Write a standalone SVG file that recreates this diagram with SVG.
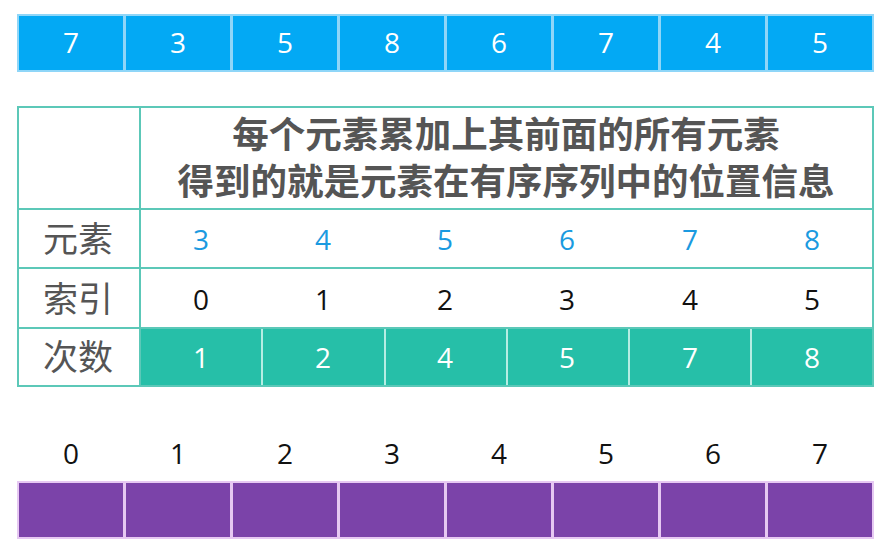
<svg xmlns="http://www.w3.org/2000/svg" width="892" height="556" viewBox="0 0 892 556">
<style>
.blue{fill:#03A9F4;stroke:#8FD6F8;stroke-width:2}
.purple{fill:#7B43A9;stroke:#E6C8F2;stroke-width:2}
.teal{fill:#26BFA8;stroke:#B5EDE3;stroke-width:2}
.grid{fill:none;stroke:#5CC8B8;stroke-width:2}
.num{font-family:"Open Sans","Noto Sans",sans-serif;font-size:28px;text-anchor:middle}
.w{fill:#FFFFFF}
.k{fill:#111111}
.b{fill:#1A9AE0}
.lab{font-family:"Noto Sans CJK SC",sans-serif;font-size:35px;fill:#555555;text-anchor:middle}
.hd{font-family:"Noto Sans CJK SC",sans-serif;font-size:36.5px;font-weight:bold;fill:#555555;text-anchor:middle}
</style>
<rect width="892" height="556" fill="#FFFFFF"/>
<g id="top-array">
<rect class="blue" x="18" y="15" width="106" height="56"/>
<rect class="blue" x="125" y="15" width="106" height="56"/>
<rect class="blue" x="232" y="15" width="106" height="56"/>
<rect class="blue" x="339" y="15" width="106" height="56"/>
<rect class="blue" x="446" y="15" width="106" height="56"/>
<rect class="blue" x="553" y="15" width="106" height="56"/>
<rect class="blue" x="660" y="15" width="106" height="56"/>
<rect class="blue" x="767" y="15" width="106" height="56"/>
<text class="num w" x="71" y="53">7</text>
<text class="num w" x="178" y="53">3</text>
<text class="num w" x="285" y="53">5</text>
<text class="num w" x="392" y="53">8</text>
<text class="num w" x="499" y="53">6</text>
<text class="num w" x="606" y="53">7</text>
<text class="num w" x="713" y="53">4</text>
<text class="num w" x="820" y="53">5</text>
</g>
<g id="table">
<rect class="teal" x="140" y="328" width="122" height="58"/>
<rect class="teal" x="262" y="328" width="123" height="58"/>
<rect class="teal" x="385" y="328" width="122" height="58"/>
<rect class="teal" x="507" y="328" width="122" height="58"/>
<rect class="teal" x="629" y="328" width="122" height="58"/>
<rect class="teal" x="751" y="328" width="122" height="58"/>
<rect class="grid" x="18" y="107" width="855" height="279"/>
<line class="grid" x1="140" y1="107" x2="140" y2="386"/>
<line class="grid" x1="18" y1="209" x2="873" y2="209"/>
<line class="grid" x1="18" y1="268" x2="873" y2="268"/>
<line class="grid" x1="18" y1="328" x2="873" y2="328"/>
<text class="hd" x="506" y="148">每个元素累加上其前面的所有元素</text>
<text class="hd" x="506" y="195">得到的就是元素在有序序列中的位置信息</text>
<text class="lab" x="78" y="252">元素</text>
<text class="lab" x="78" y="312">索引</text>
<text class="lab" x="78" y="370">次数</text>
<text class="num b" x="201" y="250">3</text>
<text class="num b" x="323" y="250">4</text>
<text class="num b" x="445" y="250">5</text>
<text class="num b" x="567" y="250">6</text>
<text class="num b" x="690" y="250">7</text>
<text class="num b" x="812" y="250">8</text>
<text class="num k" x="201" y="310">0</text>
<text class="num k" x="323" y="310">1</text>
<text class="num k" x="445" y="310">2</text>
<text class="num k" x="567" y="310">3</text>
<text class="num k" x="690" y="310">4</text>
<text class="num k" x="812" y="310">5</text>
<text class="num w" x="201" y="368">1</text>
<text class="num w" x="323" y="368">2</text>
<text class="num w" x="445" y="368">4</text>
<text class="num w" x="567" y="368">5</text>
<text class="num w" x="690" y="368">7</text>
<text class="num w" x="812" y="368">8</text>
</g>
<g id="bottom-array">
<text class="num k" x="71" y="464">0</text>
<text class="num k" x="178" y="464">1</text>
<text class="num k" x="285" y="464">2</text>
<text class="num k" x="392" y="464">3</text>
<text class="num k" x="499" y="464">4</text>
<text class="num k" x="606" y="464">5</text>
<text class="num k" x="713" y="464">6</text>
<text class="num k" x="820" y="464">7</text>
<rect class="purple" x="18" y="482" width="106" height="56"/>
<rect class="purple" x="125" y="482" width="106" height="56"/>
<rect class="purple" x="232" y="482" width="106" height="56"/>
<rect class="purple" x="339" y="482" width="106" height="56"/>
<rect class="purple" x="446" y="482" width="106" height="56"/>
<rect class="purple" x="553" y="482" width="106" height="56"/>
<rect class="purple" x="660" y="482" width="106" height="56"/>
<rect class="purple" x="767" y="482" width="106" height="56"/>
</g>
</svg>
